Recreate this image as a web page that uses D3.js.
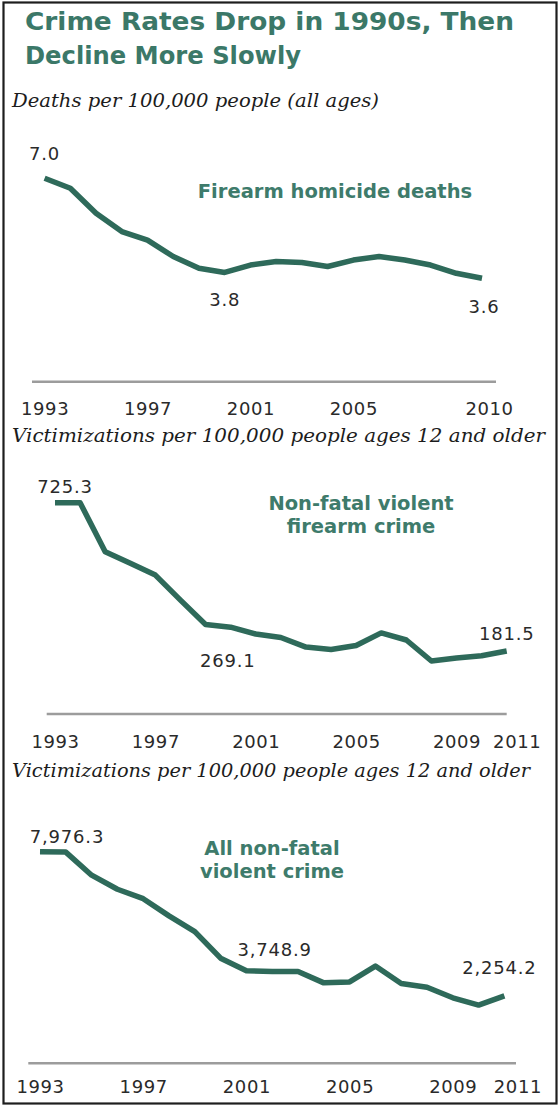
<!DOCTYPE html>
<html>
<head>
<meta charset="utf-8">
<script src="https://cdn.jsdelivr.net/npm/d3@7"></script>
<style>
  html, body { margin: 0; padding: 0; background: #fff; }
  svg { display: block; }
</style>
</head>
<body>
<script>
// ---------- DATA ----------
const titleLines = ["Crime Rates Drop in 1990s, Then", "Decline More Slowly"];

const homicideYears = [1993,1994,1995,1996,1997,1998,1999,2000,2001,2002,2003,2004,2005,2006,2007,2008,2009,2010];
const homicideRates = [7.0,6.66,5.81,5.19,4.9,4.34,3.94,3.8,4.05,4.17,4.14,4.0,4.22,4.34,4.22,4.05,3.77,3.6];
const homicideTicks = [1993,1997,2001,2005,2010];
const homicideUnit = "Deaths per 100,000 people (all ages)";
const homicideLabel = ["Firearm homicide deaths"];
const homicideNotes = [{year:1993, text:"7.0"}, {year:2000, text:"3.8"}, {year:2010, text:"3.6"}];

const victimYears = [1993,1994,1995,1996,1997,1998,1999,2000,2001,2002,2003,2004,2005,2006,2007,2008,2009,2010,2011];
const firearmCrimeRates = [725.3,725.3,545.6,503,460,368,279,269.1,244,231,196,187,202,248,222,145,156,164,181.5];
const allViolentRates = [7976.3,7960,7044,6484,6111,5428,4805,3748.9,3248,3222,3222,2768,2806,3436,2743,2592,2175,1885,2254.2];
const victimTicks = [1993,1997,2001,2005,2009,2011];
const victimUnit = "Victimizations per 100,000 people ages 12 and older";
const firearmCrimeLabel = ["Non-fatal violent", "firearm crime"];
const firearmCrimeNotes = [{year:1993, text:"725.3"}, {year:2000, text:"269.1"}, {year:2011, text:"181.5"}];
const allViolentLabel = ["All non-fatal", "violent crime"];
const allViolentNotes = [{year:1993, text:"7,976.3"}, {year:2000, text:"3,748.9"}, {year:2011, text:"2,254.2"}];

// ---------- LAYOUT / STYLE ----------
const W = 560, H = 1107;
const TEAL_TITLE = "#3b7868";
const TEAL_LINE = "#2e6a5a";
const TEAL_LABEL = "#3e7b6b";
const TEXT_DARK = "#2a2a2a";
const SANS = "'DejaVu Sans', Verdana, sans-serif";
const SERIF = "'DejaVu Serif', Georgia, serif";

const svg = d3.select("body").append("svg")
  .attr("width", W).attr("height", H)
  .attr("viewBox", `0 0 ${W} ${H}`);

svg.append("rect").attr("x", 0).attr("y", 0).attr("width", W).attr("height", H).attr("fill", "#fff");
svg.append("rect")
  .attr("x", 3.5).attr("y", 2.5).attr("width", 553).attr("height", 1101)
  .attr("fill", "none").attr("stroke", "#1e1e1e").attr("stroke-width", 2.2);

// title
svg.append("g").selectAll("text").data(titleLines).join("text")
  .attr("x", 25).attr("y", (d, i) => 30 + i * 33.5)
  .attr("font-family", SANS).attr("font-weight", "bold").attr("font-size", 24)
  .attr("fill", TEAL_TITLE)
  .attr("textLength", (d, i) => i === 0 ? 489 : 276)
  .attr("lengthAdjust", "spacingAndGlyphs")
  .text(d => d);

function subtitle(text, y, len) {
  svg.append("text")
    .attr("x", 12).attr("y", y)
    .attr("font-family", SERIF).attr("font-style", "italic").attr("font-size", 18.5)
    .attr("fill", "#1c1c1c")
    .attr("textLength", len).attr("lengthAdjust", "spacingAndGlyphs")
    .text(text);
}

function panel(cfg) {
  const g = svg.append("g");
  const x = d3.scaleLinear().domain(d3.extent(cfg.years)).range(cfg.xRange);
  const y = d3.scaleLinear().domain(d3.extent(cfg.values)).range(cfg.yRange);
  const pts = cfg.years.map((yr, i) => ({year: yr, value: cfg.values[i]}));

  // baseline rule
  g.append("line")
    .attr("x1", cfg.axisX[0]).attr("x2", cfg.axisX[1])
    .attr("y1", cfg.axisY).attr("y2", cfg.axisY)
    .attr("stroke", "#9c9c9c").attr("stroke-width", 2.4);

  // axis labels via d3 axis
  const axis = d3.axisBottom(x).tickValues(cfg.ticks).tickSize(0).tickPadding(0).tickFormat(d3.format("d"));
  const ag = g.append("g").attr("transform", `translate(0,${cfg.tickBaseline})`).call(axis);
  ag.select(".domain").remove();
  ag.selectAll("text")
    .attr("dy", null).attr("y", 0)
    .attr("font-family", SANS).attr("font-size", 18).attr("letter-spacing", 0.6)
    .attr("fill", TEXT_DARK)
    .attr("dx", d => d === cfg.ticks[cfg.ticks.length - 1] ? cfg.lastTickDx : 0);

  // line
  const line = d3.line().x(d => x(d.year)).y(d => y(d.value));
  g.append("path").datum(pts)
    .attr("d", line)
    .attr("fill", "none").attr("stroke", TEAL_LINE)
    .attr("stroke-width", 5.5).attr("stroke-linejoin", "round").attr("stroke-linecap", "butt");

  // series label
  g.append("g").selectAll("text").data(cfg.label).join("text")
    .attr("x", cfg.labelPos[0]).attr("y", (d, i) => cfg.labelPos[1] + i * 23.3)
    .attr("text-anchor", "middle")
    .attr("font-family", SANS).attr("font-weight", "bold").attr("font-size", 19.5)
    .attr("fill", TEAL_LABEL)
    .text(d => d);

  // value notes
  g.append("g").selectAll("text").data(cfg.notes).join("text")
    .attr("x", (d, i) => x(d.year) + cfg.noteOffsets[i][0])
    .attr("y", (d, i) => y(cfg.values[cfg.years.indexOf(d.year)]) + cfg.noteOffsets[i][1])
    .attr("text-anchor", "middle")
    .attr("font-family", SANS).attr("font-size", 18).attr("letter-spacing", 0.8)
    .attr("fill", TEXT_DARK)
    .text(d => d.text);
}

subtitle(homicideUnit, 106.7, 367);
panel({
  years: homicideYears, values: homicideRates, ticks: homicideTicks,
  xRange: [44.6, 482], yRange: [278.3, 178.3],
  axisX: [32, 496], axisY: 381.7, tickBaseline: 415, lastTickDx: 7,
  label: homicideLabel, labelPos: [335, 198.3],
  notes: homicideNotes, noteOffsets: [[0, -18], [0, 34], [2, 35]]
});

subtitle(victimUnit, 441.7, 533);
panel({
  years: victimYears, values: firearmCrimeRates, ticks: victimTicks,
  xRange: [55, 506.7], yRange: [661, 502.7],
  axisX: [46.7, 506.7], axisY: 714, tickBaseline: 748, lastTickDx: 10,
  label: firearmCrimeLabel, labelPos: [361, 510],
  notes: firearmCrimeNotes, noteOffsets: [[10, -10], [-3, 39.5], [0, -11]]
});

subtitle(victimUnit, 776.5, 518);
panel({
  years: victimYears, values: allViolentRates, ticks: victimTicks,
  xRange: [40, 504.4], yRange: [1005.1, 851.7],
  axisX: [28.3, 516], axisY: 1063.3, tickBaseline: 1093, lastTickDx: 13,
  label: allViolentLabel, labelPos: [272, 855],
  notes: allViolentNotes, noteOffsets: [[27, -9], [54, -2], [-5, -22]]
});
</script>
</body>
</html>
